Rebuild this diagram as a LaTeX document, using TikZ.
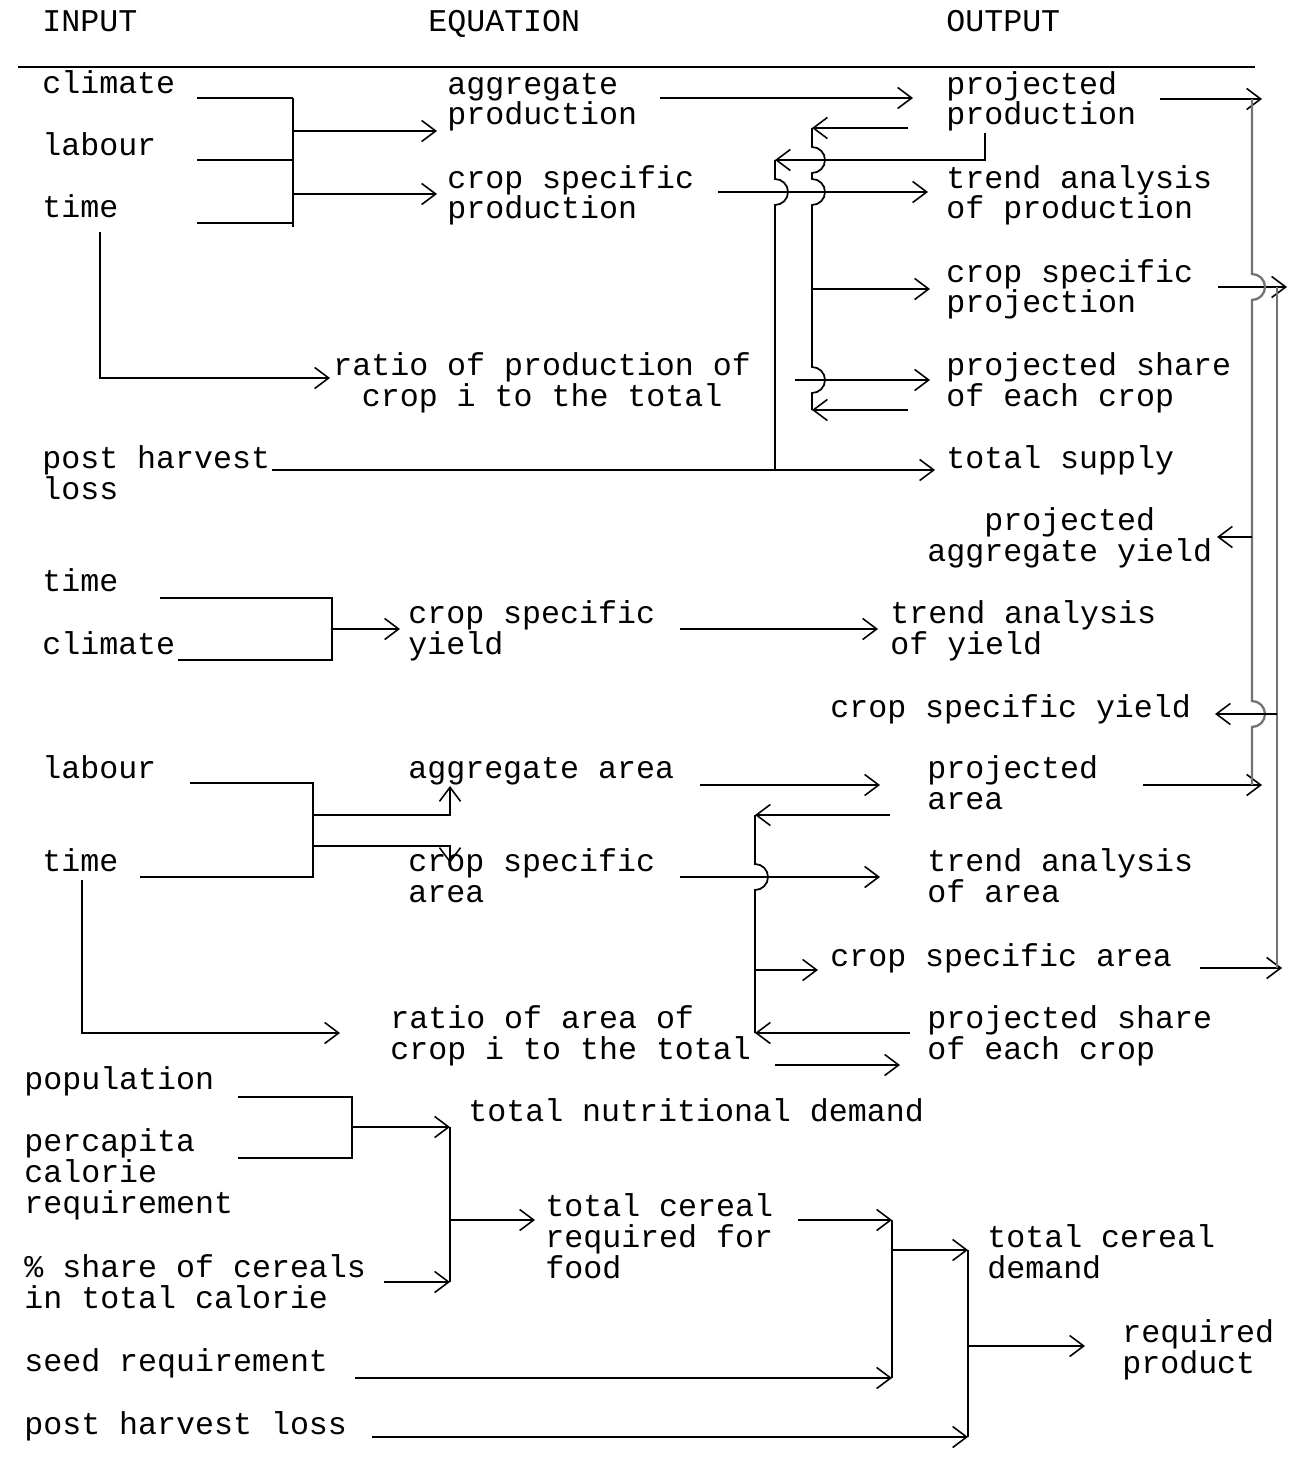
\documentclass[tikz,border=0pt]{standalone}
\usepackage{fontspec}
\setmonofont{Liberation Mono}
\usetikzlibrary{arrows.meta}

\tikzset{
  txt/.style={font=\ttfamily\fontsize{18pt}{17.6pt}\selectfont,
    inner sep=0pt, anchor=base west, align=left},
  ln/.style={line width=1pt},
  arr/.style={ln, -{Straight Barb[length=8pt,width=12pt,line width=0.9pt]}},
  pencil/.style={line width=1.3pt, draw=black!55},
}

\begin{document}
\begin{tikzpicture}[x=0.02cm, y=-0.02cm]
\useasboundingbox (0,0) rectangle (1293,1466);

% headings
\node[txt] (hin) at (42,32) {INPUT};
\node[txt] (heq) at (428,32) {EQUATION};
\node[txt] (hout) at (946,32) {OUTPUT};
\draw[ln] (18,67) -- (1255,67);

% production block (base = last line)
\node[txt] (clim1) at (42,94) {climate};
\node[txt] (lab1) at (42,156) {labour};
\node[txt] (time1) at (42,218) {time};
\node[txt] (aggprod) at (447,125) {aggregate\\production};
\node[txt] (csprod) at (447,219) {crop specific\\production};
\node[txt] (projprod) at (946,125) {projected\\production};
\node[txt] (trprod) at (946,219) {trend analysis\\of production};
\node[txt] (csproj) at (946,313) {crop specific\\projection};
\node[txt, align=center] (ratprod) at (333,406) {ratio of production of\\crop i to the total};
\node[txt] (shprod) at (946,406) {projected share\\of each crop};
\node[txt] (phl1) at (42,499) {post harvest\\loss};
\node[txt] (supply) at (946,468) {total supply};
\node[txt, align=center] (aggyld) at (927,561) {projected\\aggregate yield};

\coordinate (busA) at (293,98);
\coordinate (busC) at (775,160);
\coordinate (busD) at (812,128);
\foreach \y in {98,160,223}
  \draw[ln] (197,\y) -- (busA |- 0,\y);
\draw[ln] (busA) -- (293,227);
\draw[arr] (busA |- 0,131) -- (437,131);
\draw[arr] (busA |- 0,194) -- (437,194);
\draw[arr] (660,98) -- (913,98);
\draw[arr] (100,232) |- (330,378);
\draw[arr] (985,133) |- (busC);
\draw[ln] (busC) -- (775,179) arc[start angle=-90,end angle=90,radius=13] -- (775,470);
\draw[arr] (908,128) -- (busD);
\draw[arr] (908,410) -- (busD |- 0,410);
\draw[ln] (busD) -- (812,147) arc[start angle=-90,end angle=90,radius=13]
  -- (812,179) arc[start angle=-90,end angle=90,radius=13]
  -- (812,367) arc[start angle=-90,end angle=90,radius=13] -- (812,410);
\draw[arr] (busD |- 0,289) -- (930,289);
\draw[arr] (718,192) -- (928,192);
\draw[arr] (795,380) -- (930,380);
\draw[arr] (272,470) -- (935,470);

% yield block
\node[txt] (time2) at (42,591) {time};
\node[txt] (clim2) at (42,654) {climate};
\node[txt] (csyld) at (408,654) {crop specific\\yield};
\node[txt] (tryld) at (890,654) {trend analysis\\of yield};
\node[txt] (csyldo) at (830,717) {crop specific yield};

\coordinate (busB) at (332,598);
\draw[ln] (160,598) -- (busB) -- (332,660) -- (178,660);
\draw[arr] (busB |- 0,629) -- (400,629);
\draw[arr] (680,629) -- (878,629);

% area block
\node[txt] (lab2) at (42,778) {labour};
\node[txt] (time3) at (42,871) {time};
\node[txt] (aggarea) at (408,778) {aggregate area};
\node[txt] (csarea) at (408,902) {crop specific\\area};
\node[txt] (projarea) at (927,809) {projected\\area};
\node[txt] (trarea) at (927,902) {trend analysis\\of area};
\node[txt] (csareao) at (830,966) {crop specific area};
\node[txt] (ratarea) at (390,1059) {ratio of area of\\crop i to the total};
\node[txt] (sharea) at (927,1059) {projected share\\of each crop};

\coordinate (busE) at (313,783);
\coordinate (busF) at (755,815);
\draw[ln] (190,783) -- (busE) -- (313,877) -- (140,877);
\draw[arr] (busE |- 0,815) -- (450,815) -- (450,786);
\draw[arr] (busE |- 0,846) -- (450,846) -- (450,863);
\draw[arr] (700,785) -- (880,785);
\draw[arr] (890,815) -- (busF);
\draw[arr] (910,1033) -- (busF |- 0,1033);
\draw[ln] (busF) -- (755,864) arc[start angle=-90,end angle=90,radius=13] -- (755,1033);
\draw[arr] (680,877) -- (880,877);
\draw[arr] (busF |- 0,970) -- (818,970);
\draw[arr] (82,880) |- (340,1033);
\draw[arr] (775,1065) -- (900,1065);

% outputs gathered on the right
\coordinate (lineA) at (1252,99);
\coordinate (lineB) at (1277,287);
\draw[arr] (1160,99) -- (1262,99);
\draw[arr] (1218,287) -- (1287,287);
\draw[arr] (1143,785) -- (1262,785);
\draw[arr] (1200,968) -- (1282,968);
\draw[pencil] (lineA) -- (1252,274) arc[start angle=-90,end angle=90,radius=13]
  -- (1252,701) arc[start angle=-90,end angle=90,radius=13] -- (1252,785);
\draw[pencil] (lineB) -- (1277,968);
\draw[arr] (lineA |- 0,537) -- (1217,537);
\draw[arr] (lineB |- 0,714) -- (1215,714);

% demand block
\node[txt] (pop) at (24,1089) {population};
\node[txt] (pcap) at (24,1213) {percapita\\calorie\\requirement};
\node[txt] (share) at (24,1308) {\% share of cereals\\in total calorie};
\node[txt] (seed) at (24,1371) {seed requirement};
\node[txt] (phl2) at (24,1434) {post harvest loss};
\node[txt] (nutr) at (468,1121) {total nutritional demand};
\node[txt] (food) at (545,1278) {total cereal\\required for\\food};
\node[txt] (dem) at (987,1278) {total cereal\\demand};
\node[txt] (reqp) at (1122,1373) {required\\product};

\coordinate (busG) at (352,1097);
\coordinate (busH) at (450,1127);
\coordinate (busI) at (892,1220);
\coordinate (busJ) at (968,1250);
\draw[ln] (238,1097) -- (busG) -- (352,1158) -- (238,1158);
\draw[arr] (busG |- busH) -- (busH);
\draw[ln] (busH) -- (450,1282);
\draw[arr] (384,1282) -- (450,1282);
\draw[arr] (busH |- 0,1220) -- (535,1220);
\draw[arr] (798,1220) -- (busI);
\draw[ln] (busI) -- (892,1378);
\draw[arr] (355,1378) -- (892,1378);
\draw[arr] (busI |- busJ) -- (busJ);
\draw[ln] (busJ) -- (968,1437);
\draw[arr] (372,1437) -- (968,1437);
\draw[arr] (busJ |- 0,1346) -- (1085,1346);
\end{tikzpicture}
\end{document}
